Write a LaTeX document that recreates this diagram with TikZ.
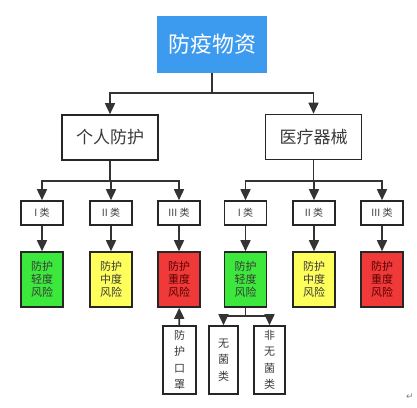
\documentclass[tikz,border=0pt]{standalone}
\usepackage{fontspec}
\setmainfont{Noto Sans CJK SC}
\newfontfamily\symfont{DejaVu Sans}
\usetikzlibrary{arrows.meta}
\definecolor{topblue}{HTML}{3D9BEF}
\definecolor{lowgreen}{HTML}{3BE83B}
\definecolor{midyellow}{HTML}{FFFF5C}
\definecolor{highred}{HTML}{F03A3A}
\definecolor{txtgray}{HTML}{3A3A3A}
\begin{document}
\begin{tikzpicture}[x=1pt,y=-1pt,
  box/.style={draw=black!85,line width=1.6pt,fill=white,inner sep=0pt,text=txtgray,align=center},
  risk/.style={box,minimum width=42pt,minimum height=55pt,font=\fontsize{11}{13}\selectfont},
  cls/.style={box,minimum width=42pt,minimum height=24pt,font=\fontsize{10}{12}\selectfont},
  vbox/.style={box,minimum height=68pt,font=\fontsize{11}{16.5}\selectfont},
  link/.style={line width=1.6pt,draw=black!80,-{Triangle[width=10pt,length=11pt]}}]
\useasboundingbox (0,0) rectangle (417,407);
% top level
\node[box,fill=topblue,draw=topblue,text=white,minimum width=108pt,minimum height=55pt,font=\fontsize{22}{24}\selectfont] (top) at (212,44.5) {防疫物资};
\node[box,minimum width=96pt,minimum height=45pt,font=\fontsize{17}{19}\selectfont] (pp) at (110,137.5) {个人防护};
\node[box,minimum width=96pt,minimum height=45pt,font=\fontsize{17}{19}\selectfont] (med) at (313.5,137) {医疗器械};
% classes
\node[cls] (ppa) at (42,213) {I 类};
\node[cls] (ppb) at (111,213) {II 类};
\node[cls] (ppc) at (179,213) {III 类};
\node[cls] (meda) at (245.5,213) {I 类};
\node[cls] (medb) at (314,213) {II 类};
\node[cls] (medc) at (382,213) {III 类};
% risk levels
\node[risk,fill=lowgreen] (ppl) at (42,279.5) {防护\\轻度\\风险};
\node[risk,fill=midyellow] (ppm) at (111,279.5) {防护\\中度\\风险};
\node[risk,fill=highred,text=red!35!black] (pph) at (179,279.5) {防护\\重度\\风险};
\node[risk,fill=lowgreen] (medl) at (245.5,279.5) {防护\\轻度\\风险};
\node[risk,fill=midyellow] (medm) at (314,279.5) {防护\\中度\\风险};
\node[risk,fill=highred,text=red!35!black] (medh) at (382,279.5) {防护\\重度\\风险};
% bottom
\node[vbox,minimum width=33pt] (mask) at (179.5,360) {防\\护\\口\\罩};
\node[vbox,minimum width=29pt] (st) at (223.5,360) {无\\菌\\类};
\node[vbox,minimum width=31pt] (nst) at (269.5,360) {非\\无\\菌\\类};
\node[text=gray,font=\symfont\fontsize{9}{9}\selectfont] (ret) at (410,397) {↵};
% connectors
\draw[link] (top.south) -- (212,93) -| (pp.north);
\draw[link] (top.south) -- (212,93) -| (med.north);
\foreach \c in {ppa,ppb,ppc} \draw[link] (pp.south) -- (110,181) -| (\c.north);
\foreach \c in {meda,medb,medc} \draw[link] (med.south) -- (313.5,181) -| (\c.north);
\draw[link] (ppa) -- (ppl);
\draw[link] (ppb) -- (ppm);
\draw[link] (ppc) -- (pph);
\draw[link] (meda) -- (medl);
\draw[link] (medb) -- (medm);
\draw[link] (medc) -- (medh);
\draw[link] (mask) -- (pph);
\draw[link] (medl.south) -- (245.5,316) -| (st.north);
\draw[link] (medl.south) -- (245.5,316) -| (nst.north);
\end{tikzpicture}
\end{document}
